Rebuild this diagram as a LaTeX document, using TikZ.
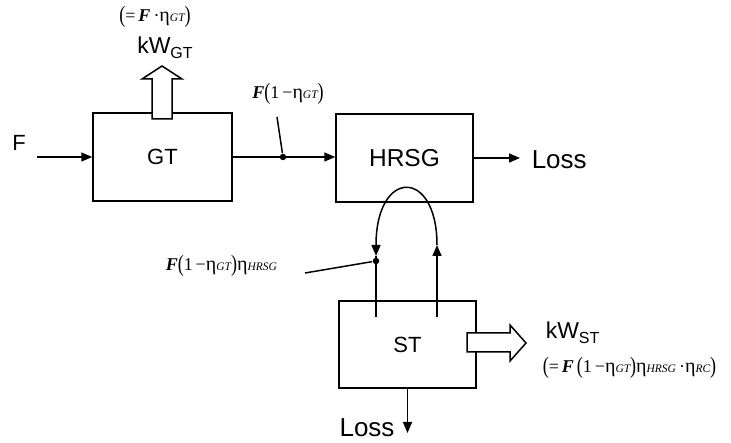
\documentclass[tikz,border=0pt]{standalone}
\usepackage{fontspec}
\usepackage{graphicx}
\setmainfont{Liberation Serif}
\newfontfamily\sansf{Liberation Sans}
\usetikzlibrary{arrows.meta}
\newcommand\subt[1]{{\fontsize{11.5}{11.5}\selectfont\itshape #1}}
\newcommand\bigp[1]{\raisebox{-1.5pt}{\scalebox{1}[1.3]{#1}}}
\newcommand\FF{{\bfseries\itshape F}}
\newcommand\ee{{\fontsize{20}{20}\selectfont η}}
\begin{document}
\begin{tikzpicture}[x=1pt,y=-1pt,line width=1.5pt,
  blk/.style={draw,line width=1.5pt,minimum width=137pt,minimum height=88pt,inner sep=0pt,font=\sansf\fontsize{22}{22}\selectfont},
  lbl/.style={font=\sansf\fontsize{26}{26}\selectfont,inner sep=0pt},
  kw/.style={font=\sansf\fontsize{23}{23}\selectfont,inner sep=0pt},
  eq/.style={font=\fontsize{18}{18}\selectfont,inner sep=0pt},
  arr/.style={-{Triangle[length=11pt,width=9pt]}},
  hollow/.style={draw,fill=white,line width=1.5pt,line join=miter},
  dot/.style={circle,fill,inner sep=0pt,minimum size=6.5pt}]
\useasboundingbox (0,0) rectangle (731,443);
% boxes
\node[blk,minimum width=139pt] (GT) at (162.5,157) {GT};
\node[blk,font=\sansf\fontsize{24.5}{24.5}\selectfont] (HRSG) at (404.5,158) {HRSG};
\node[blk,minimum height=87pt] (ST) at (407.5,344.5) {ST};
% input F
\node[lbl,font=\sansf\fontsize{22}{22}\selectfont] (F) at (19,143) {F};
\coordinate (fin) at (37,157);
\draw[arr] (fin) -- (GT.west);
% GT -> HRSG
\draw[arr] (GT.east) -- (HRSG.west |- GT.east);
\node[dot] (d1) at (283,157) {};
\coordinate (l1) at (277,117);
\draw (l1) -- (d1);
\node[eq] (lab1) at (288,94) {\FF\bigp{(}1\,−\ee\subt{GT}\bigp{)}};
% HRSG -> Loss
\coordinate (lossR) at (520,158);
\draw[arr] (HRSG.east |- lossR) -- (lossR);
\node[lbl,anchor=west] (lossRt) at (531,160) {Loss};
% GT work arrow
\draw[hollow] (152,119) -- (152,79) -- (142,79) -- (162,66) -- (182,79) -- (172,79) -- (172,119) -- cycle;
\node[kw] (kwgt) at (165,48) {kW\raisebox{-5pt}{\fontsize{16}{16}\selectfont GT}};
\node[eq] (eqgt) at (155,17) {\bigp{(}=\,\FF\,·\ee\subt{GT}\bigp{)}};
% loop between HRSG and ST
\coordinate (sR) at (437,317);
\coordinate (sL) at (376,317);
\coordinate (tR) at (437,245);
\coordinate (tL) at (376,256);
\draw[arr] (sR) -- (tR);
\draw[arr] (tR) .. controls (437,168) and (376,168) .. (tL);
\draw (tL) -- (sL);
\node[dot] (d2) at (376,261) {};
\coordinate (l2) at (305,273);
\draw (l2) -- (d2);
\node[eq,anchor=west] (lab2) at (165,266) {\FF\bigp{(}1\,−\ee\subt{GT}\bigp{)}\ee\subt{HRSG}};
% ST work arrow
\draw[hollow] (467,333) -- (510,333) -- (510,325) -- (526,343) -- (510,361) -- (510,352) -- (467,352) -- cycle;
\node[kw,anchor=west] (kwst) at (545,333) {kW\raisebox{-5pt}{\fontsize{16}{16}\selectfont ST}};
\node[eq,anchor=west] (eqst) at (542,368) {\bigp{(}=\,\FF\,\bigp{(}1\,−\ee\subt{GT}\bigp{)}\ee\subt{HRSG}\,·\ee\subt{RC}\bigp{)}};
% ST loss
\coordinate (lossB) at (407.5,433);
\draw[arr] (ST.south) -- (lossB);
\node[lbl] (lossBt) at (367,428) {Loss};
\end{tikzpicture}
\end{document}
